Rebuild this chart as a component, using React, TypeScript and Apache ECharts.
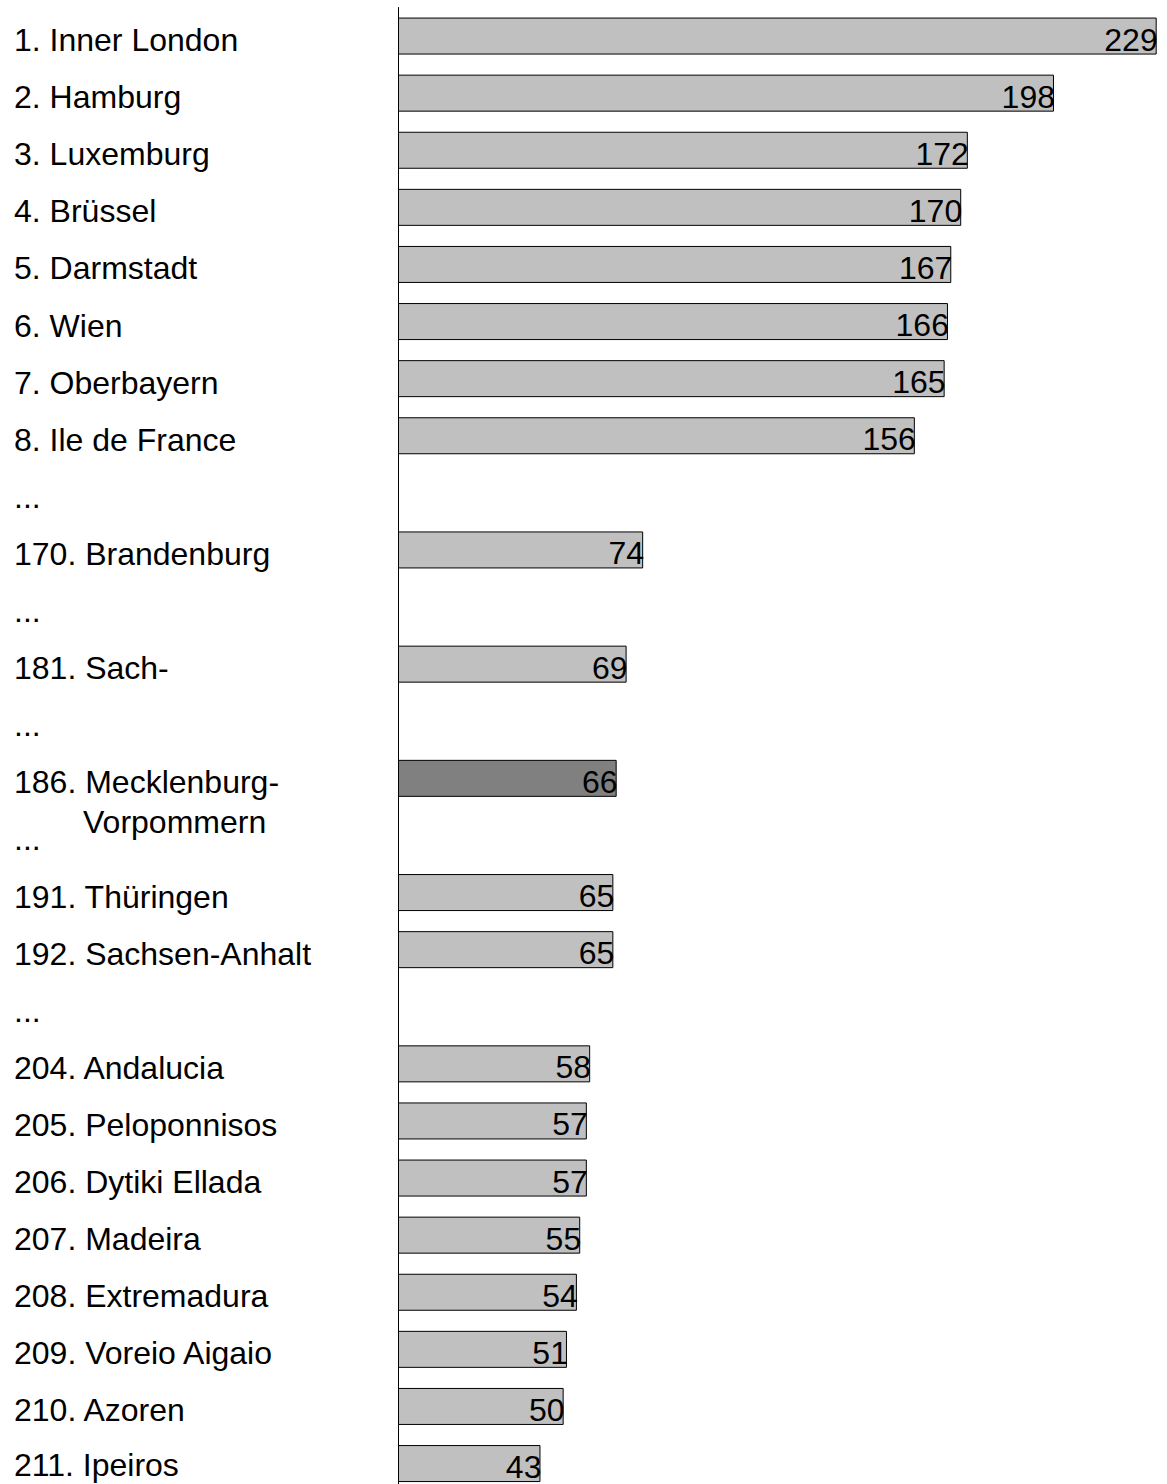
import React, { useEffect, useRef } from "react";
import * as echarts from "echarts";

const regions: string[] = [
  "1. Inner London",
  "2. Hamburg",
  "3. Luxemburg",
  "4. Brüssel",
  "5. Darmstadt",
  "6. Wien",
  "7. Oberbayern",
  "8. Ile de France",
  "...",
  "170. Brandenburg",
  "...",
  "181. Sach-",
  "...",
  "186. Mecklenburg-\nVorpommern",
  "...",
  "191. Thüringen",
  "192. Sachsen-Anhalt",
  "...",
  "204. Andalucia",
  "205. Peloponnisos",
  "206. Dytiki Ellada",
  "207. Madeira",
  "208. Extremadura",
  "209. Voreio Aigaio",
  "210. Azoren",
  "211. Ipeiros",
];

const values: (number | null)[] = [
  229, 198, 172, 170, 167, 166, 165, 156, null, 74, null, 69, null, 66, null,
  65, 65, null, 58, 57, 57, 55, 54, 51, 50, 43,
];

const highlighted: string[] = ["186. Mecklenburg-\nVorpommern"];

const FONT = "'Liberation Sans', Arial, sans-serif";
const FS = 32;

export default function App() {
  const ref = useRef<HTMLDivElement>(null);
  useEffect(() => {
    document.body.style.margin = "0";
    const chart = echarts.init(ref.current!, null, { renderer: "svg" });
    const last = regions.length - 1;
    const catData = regions.map((r, i) => {
      if (r.includes("\n")) {
        return {
          value: r,
          textStyle: { align: "left", padding: [48, 0, 0, 0] },
        };
      }
      if (i === last) {
        return { value: r, textStyle: { align: "left", padding: [2, 0, 0, 0] } };
      }
      return r;
    });
    const barData = values.map((v, i) => {
      if (v === null) return "-";
      const hi = highlighted.includes(regions[i]);
      return {
        value: v,
        itemStyle: { color: hi ? "#808080" : "#C0C0C0" },
      };
    });
    chart.setOption({
      animation: false,
      grid: {
        left: 398,
        top: 7.5,
        width: 762,
        height: 1484.6,
        containLabel: false,
        outerBoundsMode: "none",
      },
      xAxis: { type: "value", min: 0, max: 230, show: false },
      yAxis: {
        type: "category",
        inverse: true,
        data: catData,
        axisLine: { show: true, lineStyle: { color: "#000", width: 1 } },
        axisTick: { show: false },
        splitLine: { show: false },
        axisLabel: {
          interval: 0,
          align: "left",
          margin: 384,
          color: "#000",
          fontFamily: FONT,
          fontSize: FS,
          padding: [8, 0, 0, 0],
          formatter: (val: string) => {
            if (val.includes("\n")) {
              const [a, b] = val.split("\n");
              return `{a|${a}}\n{b|${b}}`;
            }
            return val;
          },
          rich: {
            a: { fontFamily: FONT, fontSize: FS, color: "#000", lineHeight: 40, align: "left" },
            b: {
              fontFamily: FONT,
              fontSize: FS,
              color: "#000",
              lineHeight: 40,
              align: "left",
              padding: [0, 0, 0, 69],
            },
          },
        },
      },
      series: [
        {
          type: "bar",
          data: barData,
          barWidth: 37,
          itemStyle: { borderColor: "#000", borderWidth: 1 },
          label: {
            show: true,
            position: "insideRight",
            distance: -1,
            offset: [0, 3.5],
            color: "#000",
            fontFamily: FONT,
            fontSize: FS,
          },
        },
      ],
    });
    return () => chart.dispose();
  }, []);
  return <div ref={ref} style={{ width: 1167, height: 1484 }} />;
}
